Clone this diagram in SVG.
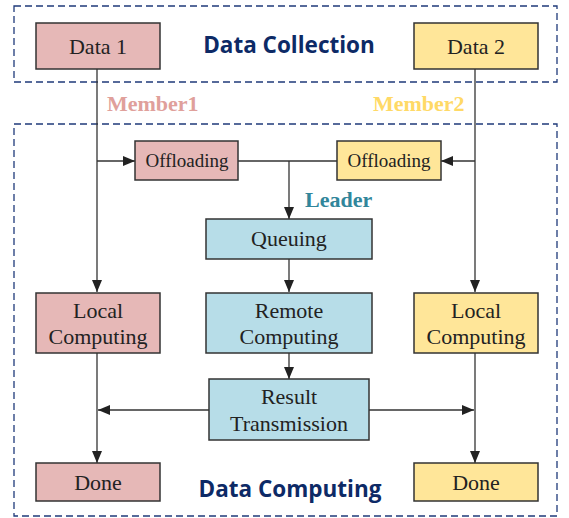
<svg xmlns="http://www.w3.org/2000/svg" width="569" height="518" viewBox="0 0 569 518">
<defs>
<marker id="ah" viewBox="0 0 12 10" refX="12" refY="5" markerWidth="12" markerHeight="10" markerUnits="userSpaceOnUse" orient="auto">
<path d="M0,0 L12,5 L0,10 Z" fill="#222"/>
</marker>
<style>
.frame{fill:none;stroke:#1f3a7a;stroke-width:1.3;stroke-dasharray:7 4}
.box{stroke:#333;stroke-width:1.5}
.p{fill:#e6b8b7}.y{fill:#ffe699}.b{fill:#b7dde8}
.t{font-family:"Liberation Serif","Times New Roman",serif;font-size:22px;fill:#222;text-anchor:middle}
.s{font-size:19px}
.title{font-family:"Open Sans","Noto Sans",sans-serif;font-weight:bold;font-size:22.5px;fill:#0d2a66;text-anchor:middle}
.role{font-family:"Liberation Serif","Times New Roman",serif;font-weight:bold;font-size:22px}
.c{fill:none;stroke:#333;stroke-width:1.3}
</style>
</defs>
<rect class="frame" x="14" y="6" width="543" height="76"/>
<rect class="frame" x="14" y="124" width="543" height="392"/>
<text class="title" x="289" y="53">Data Collection</text>
<text class="title" x="290" y="497">Data Computing</text>
<text class="role" x="107" y="111" fill="#e0a09b">Member1</text>
<text class="role" x="373" y="111" fill="#ffd966">Member2</text>
<text class="role" x="305" y="207" fill="#31869b">Leader</text>
<g id="connectors">
<path class="c" d="M97,69 V292" marker-end="url(#ah)"/>
<path class="c" d="M97,161 H135" marker-end="url(#ah)"/>
<path class="c" d="M475,69 V292" marker-end="url(#ah)"/>
<path class="c" d="M475,161 H441" marker-end="url(#ah)"/>
<path class="c" d="M238,161 H337"/>
<path class="c" d="M289,161 V219" marker-end="url(#ah)"/>
<path class="c" d="M289,259 V292" marker-end="url(#ah)"/>
<path class="c" d="M289,353 V379" marker-end="url(#ah)"/>
<path class="c" d="M209,410 H98" marker-end="url(#ah)"/>
<path class="c" d="M369,410 H474" marker-end="url(#ah)"/>
<path class="c" d="M97,353 V463" marker-end="url(#ah)"/>
<path class="c" d="M475,353 V463" marker-end="url(#ah)"/>
</g>
<g id="data1"><rect class="box p" x="36" y="23" width="124" height="46"/><text class="t" x="98" y="54">Data 1</text></g>
<g id="data2"><rect class="box y" x="414" y="23" width="124" height="46"/><text class="t" x="476" y="54">Data 2</text></g>
<g id="offload1"><rect class="box p" x="135" y="141" width="103" height="39"/><text class="t s" x="187" y="167">Offloading</text></g>
<g id="offload2"><rect class="box y" x="337" y="141" width="104" height="39"/><text class="t s" x="389" y="167">Offloading</text></g>
<g id="queuing"><rect class="box b" x="206" y="219" width="166" height="40"/><text class="t" x="289" y="246">Queuing</text></g>
<g id="local1"><rect class="box p" x="36" y="293" width="124" height="60"/><text class="t" x="98" y="318">Local</text><text class="t" x="98" y="344">Computing</text></g>
<g id="remote"><rect class="box b" x="206" y="293" width="166" height="60"/><text class="t" x="289" y="318">Remote</text><text class="t" x="289" y="344">Computing</text></g>
<g id="local2"><rect class="box y" x="414" y="293" width="124" height="60"/><text class="t" x="476" y="318">Local</text><text class="t" x="476" y="344">Computing</text></g>
<g id="result"><rect class="box b" x="209" y="379" width="160" height="61"/><text class="t" x="289" y="404">Result</text><text class="t" x="289" y="431">Transmission</text></g>
<g id="done1"><rect class="box p" x="36" y="463" width="124" height="38"/><text class="t" x="98" y="490">Done</text></g>
<g id="done2"><rect class="box y" x="414" y="463" width="124" height="38"/><text class="t" x="476" y="490">Done</text></g>
</svg>
